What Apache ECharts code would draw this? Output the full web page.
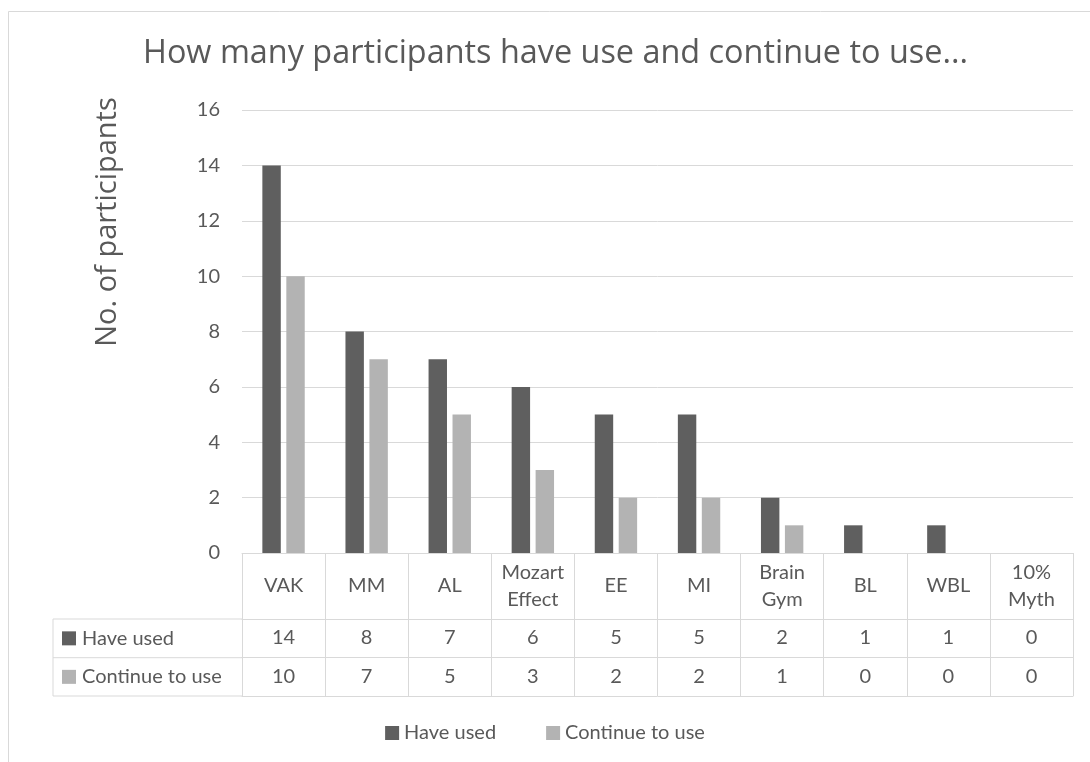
<!DOCTYPE html>
<html>
<head>
<meta charset="utf-8">
<title>How many participants have use and continue to use...</title>
<script src="https://cdn.jsdelivr.net/npm/echarts@6/dist/echarts.min.js"></script>
<style>
  html, body { margin: 0; padding: 0; background: #fff; }
  #chart { width: 1090px; height: 762px; }
</style>
</head>
<body>
<div id="chart"></div>
<script>
// data
const categories = ['VAK', 'MM', 'AL', 'Mozart Effect', 'EE', 'MI', 'Brain Gym', 'BL', 'WBL', '10% Myth']
const seriesNames = ['Have used', 'Continue to use']
const haveUsed = [14, 8, 7, 6, 5, 5, 2, 1, 1, 0]
const continueToUse = [10, 7, 5, 3, 2, 2, 1, 0, 0, 0]
const yMin = 0
const yMax = 16
const yStep = 2

const titleText = 'How many participants have use and continue to use...'
const yAxisTitle = 'No. of participants'

const colors = ['#5f5f5f', '#b3b3b3']
const textColor = '#595959'
const lineColor = '#d9d9d9'
const font = 'Lato, "Open Sans", sans-serif'
const titleFont = '"Open Sans", Lato, sans-serif'

// table geometry (plot bottom sits at y=553)
const tableLeft = 53
const axisLeft = 242
const rowLines = [619, 657.7, 696]

const chart = echarts.init(document.getElementById('chart'))

function tableAxis(values, offset, showLabels) {
  return {
    type: 'category',
    position: 'bottom',
    offset: offset,
    data: values.map(String),
    axisLine: { show: true, lineStyle: { color: lineColor, width: 1 } },
    axisTick: { show: false },
    axisLabel: {
      show: showLabels,
      interval: 0,
      margin: 19,
      verticalAlign: 'middle',
      color: textColor,
      fontFamily: font,
      fontSize: 20
    }
  }
}

const rowHeaders = seriesNames.map((name, i) => {
  const cy = (rowLines[i] + rowLines[i + 1]) / 2
  return {
    type: 'group',
    children: [
      {
        type: 'rect',
        shape: { x: 62, y: cy - 7, width: 14, height: 14 },
        style: { fill: colors[i] }
      },
      {
        type: 'text',
        x: 82,
        y: cy,
        style: {
          text: name,
          fill: textColor,
          font: '20px ' + font,
          textAlign: 'left',
          textVerticalAlign: 'middle'
        }
      }
    ]
  }
})

chart.setOption({
  animation: false,
  backgroundColor: '#fff',
  title: {
    text: titleText,
    left: 138,
    top: 33,
    textStyle: {
      color: textColor,
      fontFamily: titleFont,
      fontSize: 32.4,
      fontWeight: 'normal'
    }
  },
  legend: {
    data: seriesNames,
    left: 'center',
    top: 718,
    icon: 'rect',
    itemWidth: 14,
    itemHeight: 14,
    itemGap: 50,
    textStyle: { color: textColor, fontFamily: font, fontSize: 20 }
  },
  grid: {
    left: axisLeft,
    right: 17,
    top: 110,
    bottom: 209
  },
  xAxis: [
    {
      type: 'category',
      data: categories,
      axisLine: { show: true, lineStyle: { color: lineColor, width: 1 } },
      axisTick: {
        show: true,
        interval: 0,
        length: rowLines[2] - 553,
        lineStyle: { color: lineColor, width: 1 }
      },
      axisLabel: {
        interval: 0,
        margin: 33,
        verticalAlign: 'middle',
        lineHeight: 27,
        color: textColor,
        fontFamily: font,
        fontSize: 20,
        formatter: v => v.replace(' ', '\n')
      }
    },
    tableAxis(haveUsed, rowLines[0] - 553, true),
    tableAxis(continueToUse, rowLines[1] - 553, true),
    tableAxis(categories, rowLines[2] - 553, false)
  ],
  yAxis: {
    type: 'value',
    min: yMin,
    max: yMax,
    interval: yStep,
    axisLine: { show: false },
    axisTick: { show: false },
    splitLine: { lineStyle: { color: lineColor, width: 1 } },
    axisLabel: {
      margin: 22,
      color: textColor,
      fontFamily: font,
      fontSize: 20
    }
  },
  series: [
    {
      name: seriesNames[0],
      type: 'bar',
      data: haveUsed,
      barGap: '30%',
      barCategoryGap: '49%',
      itemStyle: { color: colors[0] }
    },
    {
      name: seriesNames[1],
      type: 'bar',
      data: continueToUse,
      itemStyle: { color: colors[1] }
    }
  ],
  graphic: [
    {
      type: 'rect',
      silent: true,
      shape: { x: 8.5, y: 11.5, width: 1200, height: 900 },
      style: { fill: 'none', stroke: lineColor, lineWidth: 1 }
    },
    {
      type: 'polyline',
      silent: true,
      shape: { points: [[axisLeft, rowLines[0]], [tableLeft, rowLines[0]], [tableLeft, rowLines[2]], [axisLeft, rowLines[2]]] },
      style: { fill: 'none', stroke: lineColor, lineWidth: 1 }
    },
    {
      type: 'line',
      silent: true,
      shape: { x1: tableLeft, y1: rowLines[1], x2: axisLeft, y2: rowLines[1] },
      style: { stroke: lineColor, lineWidth: 1 }
    },
    ...rowHeaders,
    {
      type: 'text',
      x: 108,
      y: 222,
      rotation: Math.PI / 2,
      style: {
        text: yAxisTitle,
        fill: textColor,
        font: '29px ' + titleFont,
        textAlign: 'center',
        textVerticalAlign: 'middle'
      }
    }
  ]
})
</script>
</body>
</html>
